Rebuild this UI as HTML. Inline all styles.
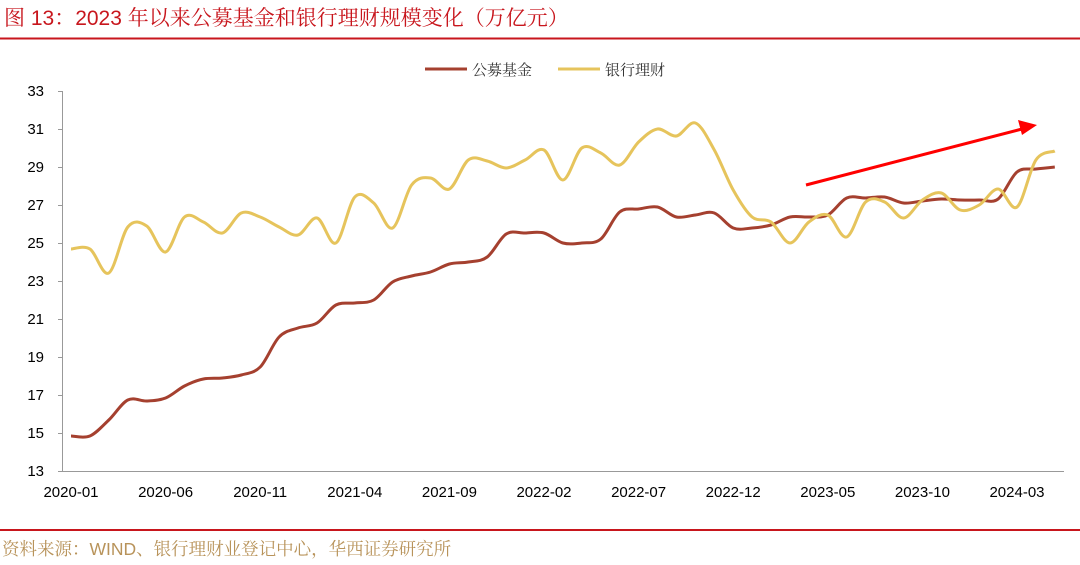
<!DOCTYPE html>
<html><head><meta charset="utf-8">
<style>
body{margin:0;width:1080px;height:565px;background:#fff;overflow:hidden;}
svg{display:block}
</style></head>
<body>
<svg id="s" width="1080" height="565" xmlns="http://www.w3.org/2000/svg">
<text x="4" y="25" font-family="Liberation Sans, Noto Serif CJK SC, sans-serif" font-size="21" fill="#c8161d">图 13：2023 年以来公募基金和银行理财规模变化（万亿元）</text>
<line x1="0" y1="38.5" x2="1080" y2="38.5" stroke="#c8161d" stroke-width="2"/>
<line x1="0" y1="530" x2="1080" y2="530" stroke="#c8161d" stroke-width="2"/>
<text x="2" y="555" font-family="Liberation Sans, Noto Serif CJK SC, sans-serif" font-size="17.5" fill="#b8935a">资料来源：WIND、银行理财业登记中心，华西证券研究所</text>
<!-- legend -->
<line x1="425" y1="69" x2="467" y2="69" stroke="#a5402f" stroke-width="3"/>
<text x="472" y="75" font-family="Noto Serif CJK SC, sans-serif" font-size="15" fill="#333">公募基金</text>
<line x1="558" y1="69" x2="600" y2="69" stroke="#e6c45c" stroke-width="3"/>
<text x="605" y="75" font-family="Noto Serif CJK SC, sans-serif" font-size="15" fill="#333">银行理财</text>
<!-- axes -->
<line x1="62.5" y1="91" x2="62.5" y2="471" stroke="#999" stroke-width="1"/>
<line x1="62" y1="471.5" x2="1064" y2="471.5" stroke="#999" stroke-width="1"/>
<g id="yt" font-family="Liberation Sans, sans-serif" font-size="15" fill="#000" text-anchor="end"></g>
<g id="xt" font-family="Liberation Sans, sans-serif" font-size="15" fill="#000" text-anchor="middle"></g>
<path id="red" fill="none" stroke="#a5402f" stroke-width="3" stroke-linejoin="round"/>
<path id="yel" fill="none" stroke="#e6c45c" stroke-width="3" stroke-linejoin="round"/>
<line x1="806" y1="185" x2="1022" y2="129" stroke="#ff0000" stroke-width="3"/>
<polygon points="1037,125 1018,120 1022,135" fill="#ff0000"/>
</svg>
<script>
var ns="http://www.w3.org/2000/svg";
var yt=document.getElementById('yt'),xt=document.getElementById('xt');
for(var v=13;v<=33;v+=2){var y=471-(v-13)*19;
 var t=document.createElementNS(ns,'text');t.setAttribute('x',44);t.setAttribute('y',y+5);t.textContent=v;yt.appendChild(t);
 var l=document.createElementNS(ns,'line');l.setAttribute('x1',58);l.setAttribute('x2',62);l.setAttribute('y1',y+.5);l.setAttribute('y2',y+.5);l.setAttribute('stroke','#999');yt.appendChild(l);}
var labs=['2020-01','2020-06','2020-11','2021-04','2021-09','2022-02','2022-07','2022-12','2023-05','2023-10','2024-03'];
for(var i=0;i<labs.length;i++){var t=document.createElementNS(ns,'text');t.setAttribute('x',71+18.92*5*i);t.setAttribute('y',497);t.textContent=labs[i];xt.appendChild(t);}
var red=[436,436,420,400,401,398,386,379,378,375,367,337,328,323,305,303,300,282,276,272,264,262,257,234,233,
233,243,243,239,212,209,207,217,215,213,228,228,225,217,217,215,198,198,197,203,201,199,200,200,199,172,169,167];
var yel=[249,249,273,227,226,252,217,222,233,213,217,227,235,218,243,197,203,228,185,178,189,160,161,168,160,
150,180,148,153,165,142,129,136,123,150,190,217,222,243,222,215,237,202,202,218,200,193,210,205,189,207,160,151];
function path(a){var p=a.map(function(y,i){return [71+18.92*i,y]});
 var d='M'+p[0][0]+','+p[0][1];
 for(var i=0;i<p.length-1;i++){var p0=p[i-1]||p[i],p1=p[i],p2=p[i+1],p3=p[i+2]||p2;
  var c1x=p1[0]+(p2[0]-p0[0])/6,c1y=p1[1]+(p2[1]-p0[1])/6,c2x=p2[0]-(p3[0]-p1[0])/6,c2y=p2[1]-(p3[1]-p1[1])/6;
  d+=' C'+c1x.toFixed(1)+','+c1y.toFixed(1)+' '+c2x.toFixed(1)+','+c2y.toFixed(1)+' '+p2[0].toFixed(1)+','+p2[1];}
 return d;}
document.getElementById('red').setAttribute('d',path(red));
document.getElementById('yel').setAttribute('d',path(yel));
</script>
</body></html>
